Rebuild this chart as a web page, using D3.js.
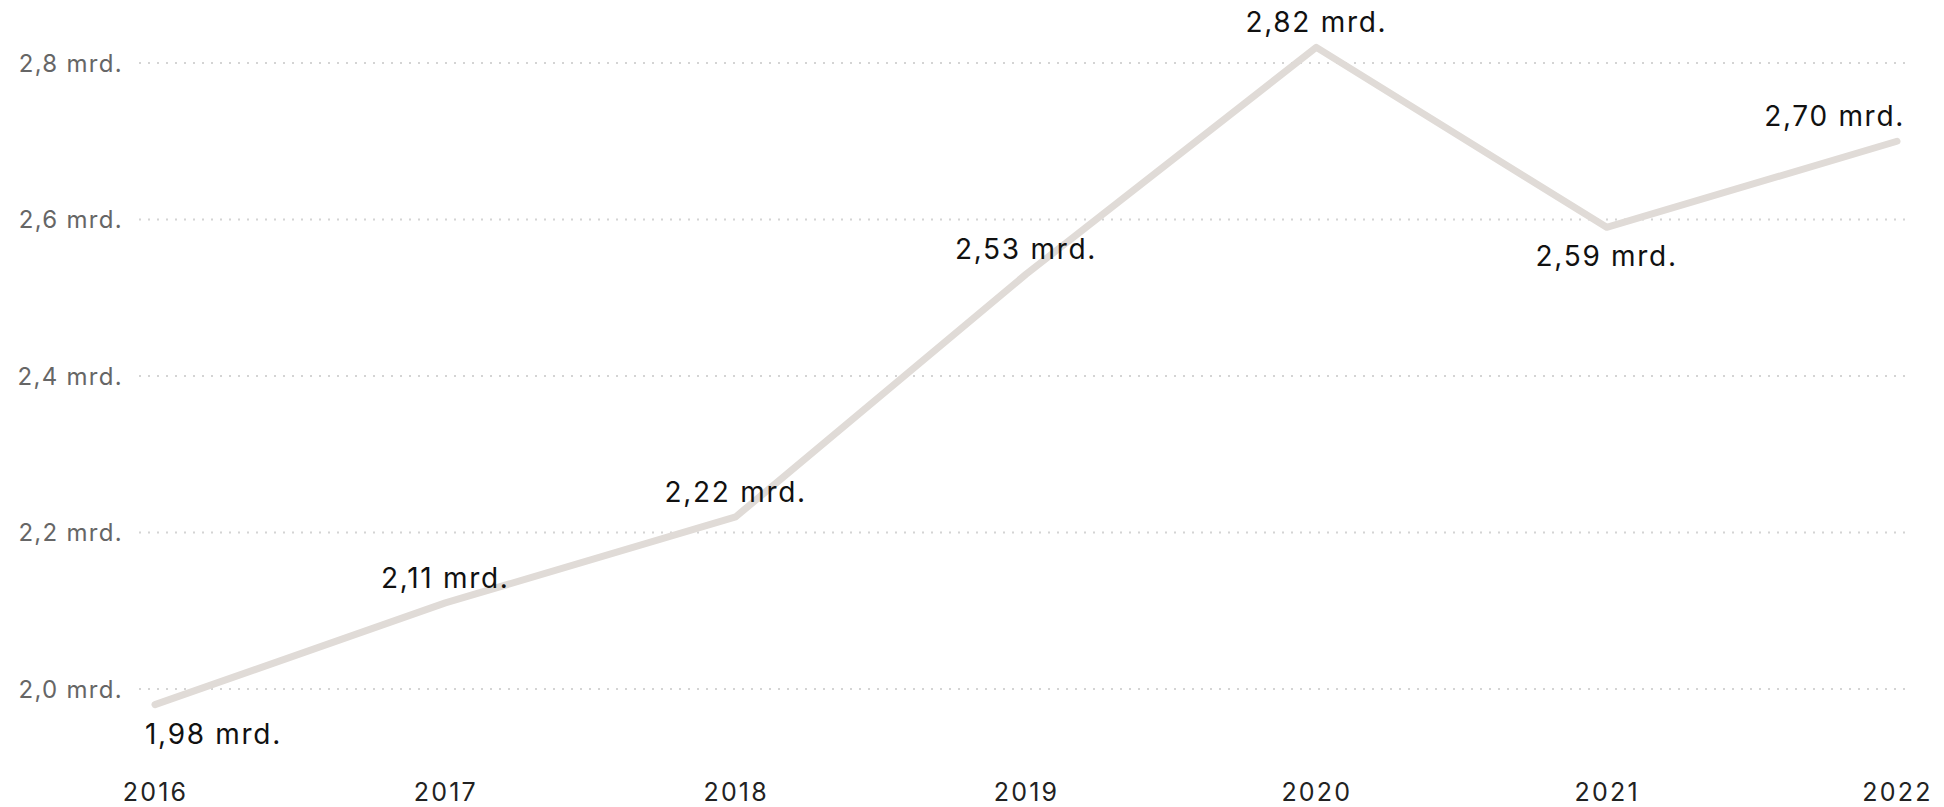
<!DOCTYPE html>
<html>
<head>
<meta charset="utf-8">
<script src="https://cdn.jsdelivr.net/npm/d3@7"></script>
<style>
  body { margin: 0; background: #fff; }
  svg { display: block; font-family: Inter, "Open Sans", sans-serif; }
</style>
</head>
<body>
<svg id="chart" width="1944" height="807"></svg>
<script>
  var years = ['2016', '2017', '2018', '2019', '2020', '2021', '2022']
  var values = [1.98, 2.11, 2.22, 2.53, 2.82, 2.59, 2.70]
  var yTicks = [2.0, 2.2, 2.4, 2.6, 2.8]

  var width = 1944, height = 807
  var svg = d3.select('#chart')

  var x = d3.scalePoint()
    .domain(years)
    .range([155, 1897])

  var y = d3.scaleLinear()
    .domain([2.0, 2.8])
    .range([689, 63])

  var fmt = function(v, digits) {
    return v.toFixed(digits).replace('.', ',') + ' mrd.'
  }

  // dotted gridlines
  svg.append('g')
    .selectAll('line')
    .data(yTicks)
    .enter()
    .append('line')
    .attr('x1', 139)
    .attr('x2', 1906)
    .attr('y1', function(d) { return y(d) })
    .attr('y2', function(d) { return y(d) })
    .style('stroke', '#d4d4d4')
    .style('stroke-width', 2)
    .style('stroke-dasharray', '2,7')

  // y tick labels
  svg.append('g')
    .selectAll('text')
    .data(yTicks)
    .enter()
    .append('text')
    .attr('x', 123)
    .attr('y', function(d) { return y(d) })
    .attr('dy', '0.36em')
    .style('text-anchor', 'end')
    .style('font-size', '24px')
    .style('letter-spacing', '1.3px')
    .style('fill', '#666')
    .text(function(d) { return fmt(d, 1) })

  // x axis labels
  var xAxis = d3.axisBottom(x).tickSize(0).tickPadding(0)
  var gx = svg.append('g')
    .attr('transform', 'translate(0,783)')
    .call(xAxis)
  gx.select('.domain').remove()
  gx.selectAll('text')
    .attr('dy', '0.72em')
    .style('font-family', 'Inter, sans-serif')
    .style('font-size', '25px')
    .style('letter-spacing', '2.2px')
    .style('fill', '#222')

  // line
  var line = d3.line()
    .x(function(d, i) { return x(years[i]) })
    .y(function(d) { return y(d) })

  svg.append('path')
    .datum(values)
    .attr('d', line)
    .style('fill', 'none')
    .style('stroke', '#e0dbd7')
    .style('stroke-width', 7)
    .style('stroke-linecap', 'round')
    .style('stroke-linejoin', 'round')

  // value labels: below for local minima, above otherwise
  var labels = svg.append('g')
    .selectAll('text')
    .data(values)
    .enter()
    .append('text')
    .style('font-size', '28px')
    .style('fill', '#111')
    .style('letter-spacing', '1.7px')
    .text(function(d) { return fmt(d, 2) })
    .attr('y', function(d, i) {
      var prev = i > 0 ? values[i - 1] : Infinity
      var next = i < values.length - 1 ? values[i + 1] : Infinity
      var below = d < prev && d < next
      return y(d) + (below ? 39 : -15)
    })
    .attr('x', function(d, i) { return x(years[i]) })
    .style('text-anchor', 'middle')

  // keep labels inside the plot edges
  labels.each(function(d, i) {
    var bb = this.getBBox()
    var left = 145, right = 1905
    var cx = x(years[i])
    if (bb.x < left) d3.select(this).attr('x', cx + (left - bb.x))
    if (bb.x + bb.width > right) d3.select(this).attr('x', cx - (bb.x + bb.width - right))
  })
</script>
</body>
</html>
